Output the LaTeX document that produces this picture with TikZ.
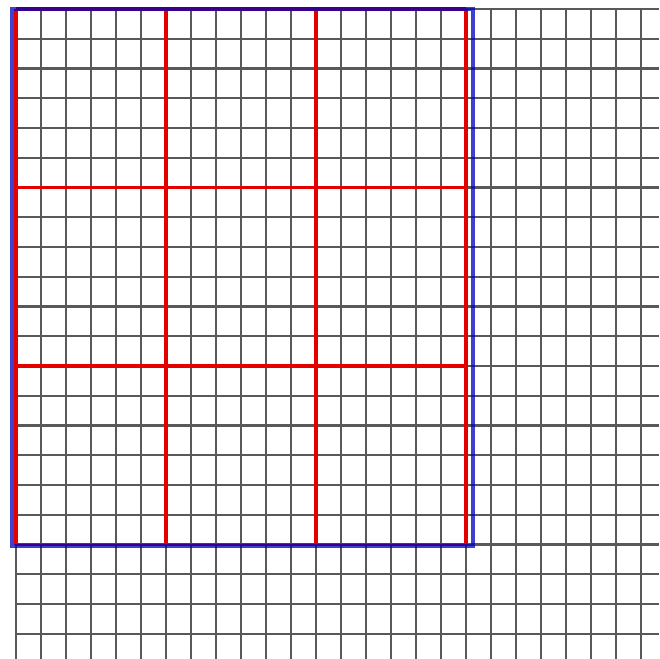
\documentclass[tikz,border=0pt]{standalone}
\begin{document}
\begin{tikzpicture}[x=1pt, y=-1pt,
    fine/.style={draw=black!65, line width=2.4pt},
    coarse/.style={draw=red!90!black, line width=3.2pt},
    frame/.style={draw=blue!75!black, line width=3.5pt, opacity=0.75}
  ]
  \useasboundingbox (0,0) rectangle (659,659);
  % fine grid
  \foreach \i in {0,...,25}
    \draw[fine] ({16+25*\i},9) -- ({16+25*\i},659);
  \foreach \j in {0,...,21}
    \draw[fine] (16,{9+29.75*\j}) -- (659,{9+29.75*\j});
  % coarse grid
  \foreach \i in {0,...,3}
    \draw[coarse] ({16+150*\i},9) -- ({16+150*\i},544.5);
  \foreach \j in {0,...,3}
    \draw[coarse] (16,{9+178.5*\j}) -- (466,{9+178.5*\j});
  % frame
  \draw[frame] (12,9) rectangle (473,546);
\end{tikzpicture}
\end{document}
